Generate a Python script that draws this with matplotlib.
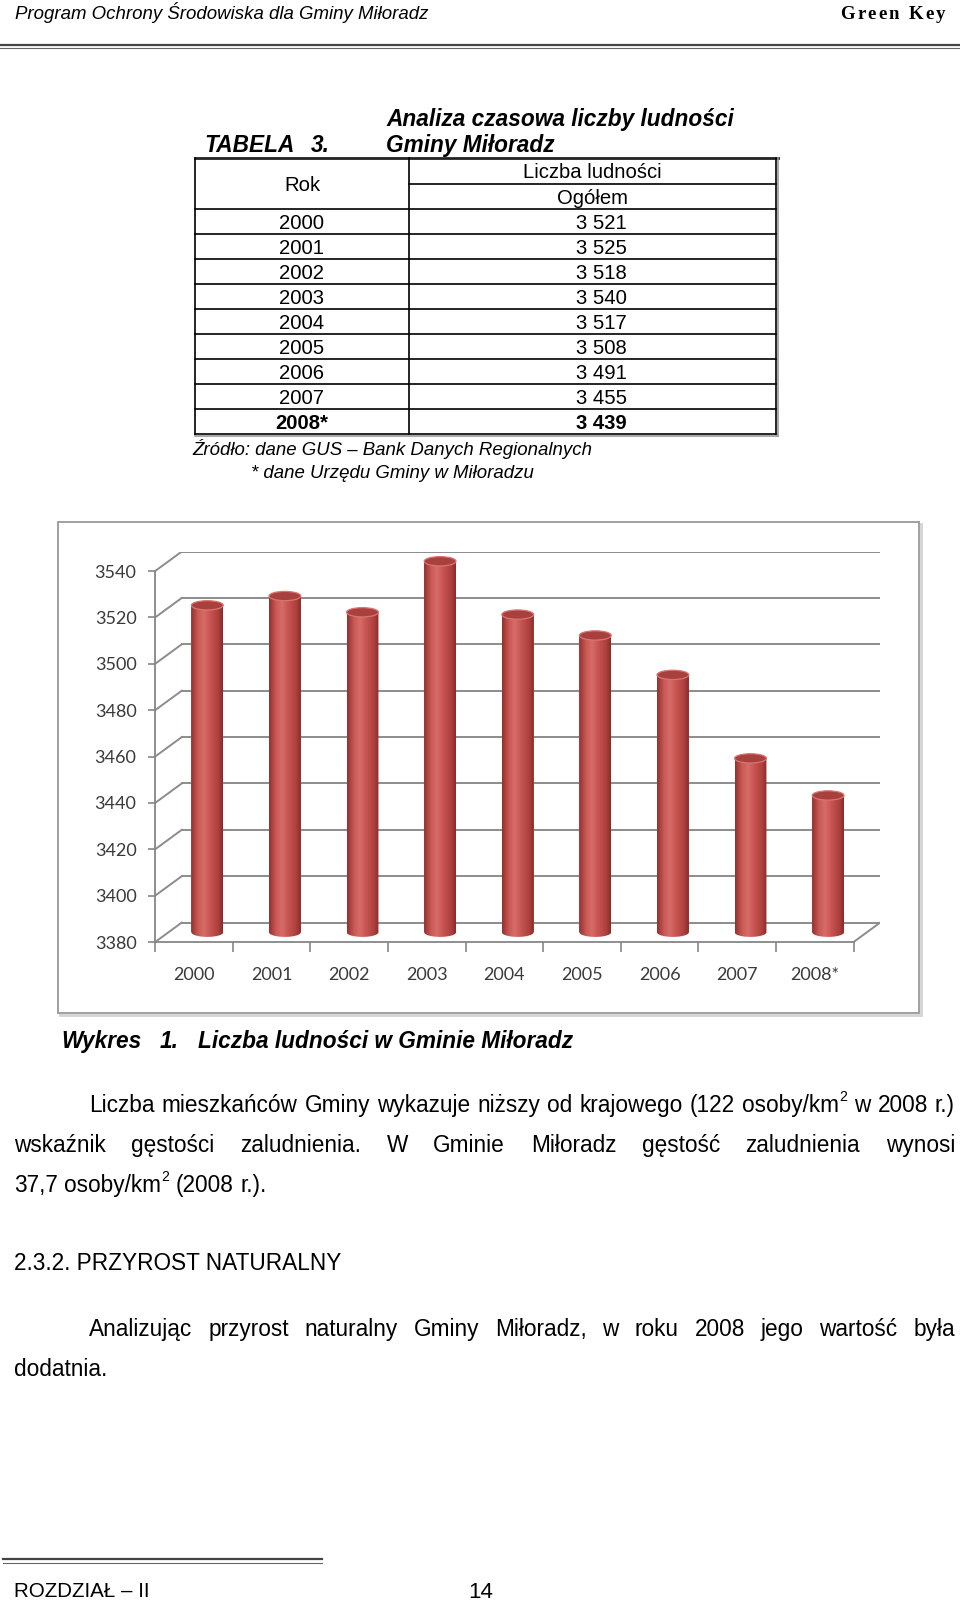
import matplotlib
matplotlib.use('Agg')
import matplotlib.pyplot as plt
import numpy as np
from matplotlib.patches import Rectangle, Ellipse, Polygon
from matplotlib.colors import LinearSegmentedColormap
from matplotlib.lines import Line2D

# ---------------- data ----------------
years = ['2000', '2001', '2002', '2003', '2004', '2005', '2006', '2007', '2008*']
population = [3521, 3525, 3518, 3540, 3517, 3508, 3491, 3455, 3439]
y_ticks = [3380, 3400, 3420, 3440, 3460, 3480, 3500, 3520, 3540]

W, H = 960, 1601
fig = plt.figure(figsize=(9.6, 16.01), dpi=100)
fig.patch.set_facecolor('white')

SANS = 'Liberation Sans'
SERIF = 'Liberation Serif'
CHART_FONT = 'Lato'


def X(px):
    return px / W


def Y(py):
    return 1 - py / H


def txt(x, yc, s, size, ha='left', **kw):
    base = yc + 0.36 * size * 100 / 72
    return fig.text(X(x), Y(base), s, fontsize=size, ha=ha, va='baseline',
                    family=kw.pop('family', SANS), **kw)


def hline(x0, x1, y, lw=1.0, color='black'):
    fig.add_artist(Line2D([X(x0), X(x1)], [Y(y), Y(y)], lw=lw, color=color,
                          transform=fig.transFigure))


def vline(x, y0, y1, lw=1.0, color='black'):
    fig.add_artist(Line2D([X(x), X(x)], [Y(y0), Y(y1)], lw=lw, color=color,
                          transform=fig.transFigure))


renderer = fig.canvas.get_renderer()


def make_word(w, yc, size, **kw):
    """Return list of (text_artist, x_offset) and total width; '^2' -> superscript."""
    parts = []
    if w.count('^'):
        main, rest = w.split('^', 1)
        sup, tail = rest[0], rest[1:]
        t1 = txt(0, yc, main, size, **kw)
        w1 = t1.get_window_extent(renderer).width
        t2 = txt(0, yc - 0.36 * size * 100 / 72, sup, size * 0.62, **kw)
        w2 = t2.get_window_extent(renderer).width
        parts = [(t1, 0), (t2, w1 + 0.5)]
        total = w1 + 0.5 + w2
        if tail:
            t3 = txt(0, yc, tail, size, **kw)
            parts.append((t3, total))
            total += t3.get_window_extent(renderer).width
        return parts, total
    t = txt(0, yc, w, size, **kw)
    return [(t, 0)], t.get_window_extent(renderer).width


def justify(words, yc, x0, x1, size, **kw):
    items = [make_word(w, yc, size, **kw) for w in words]
    gap = ((x1 - x0) - sum(it[1] for it in items)) / (len(words) - 1)
    x = x0
    for parts, wd in items:
        for t, off in parts:
            t.set_x(X(x + off))
        x += wd + gap


def line_left(words, yc, x0, size, **kw):
    space = 0.278 * size * 100 / 72
    x = x0
    for w in words:
        parts, wd = make_word(w, yc, size, **kw)
        for t, off in parts:
            t.set_x(X(x + off))
        x += wd + space


def tracked_right(x_right, yc, s, size, track, **kw):
    ts, ws = [], []
    for ch in s:
        if ch == ' ':
            ts.append(None)
            ws.append(0.25 * size * 100 / 72)
        else:
            t = txt(0, yc, ch, size, **kw)
            ts.append(t)
            ws.append(t.get_window_extent(renderer).width)
    total = sum(ws) + track * (len(s) - 1)
    x = x_right - total
    for t, w in zip(ts, ws):
        if t is not None:
            t.set_x(X(x))
        x += w + track


# ---------------- header ----------------
txt(15, 12.5, 'Program Ochrony Środowiska dla Gminy Miłoradz', 13.4, style='italic')
tracked_right(945, 12.5, 'Green Key', 13.5, 2.2, family=SERIF, weight='bold')
hline(0, 960, 45, lw=1.6, color='#444444')
hline(0, 960, 48.5, lw=0.8, color='#666666')

# ---------------- table ----------------
txt(386, 117.5, 'Analiza czasowa liczby ludności', 16.3, weight='bold', style='italic')
txt(204, 144, 'TABELA', 16.3, weight='bold', style='italic')
txt(311, 144, '3.', 16.3, weight='bold', style='italic')
txt(386, 144, 'Gminy Miłoradz', 16.3, weight='bold', style='italic')

tl, tr, tm = 195, 776, 409
top, hsplit, hbot = 158, 184, 209
row_h = 25
rows_y = [hbot + row_h * k for k in range(len(years) + 1)]
bottom = rows_y[-1]

hline(tl, tr + 2, top, lw=2.0, color='#222222')
hline(tm, tr, hsplit, lw=1.2)
hline(tl, tr, hbot, lw=1.2)
for yy in rows_y[1:]:
    hline(tl, tr, yy, lw=1.2)
vline(tl, top, bottom, lw=1.2)
vline(tm, top, bottom, lw=1.2)
vline(tr, top, bottom, lw=1.2)
vline(tr + 2.2, top, bottom + 2, lw=1.2, color='#9a9a9a')
hline(tl, tr + 2, bottom + 2.2, lw=1.2, color='#9a9a9a')

TS = 14.6
txt((tl + tm) / 2, (top + hbot) / 2, 'Rok', TS, ha='center')
txt((tm + tr) / 2, (top + hsplit) / 2, 'Liczba ludności', TS, ha='center')
txt((tm + tr) / 2, (hsplit + hbot) / 2, 'Ogółem', TS, ha='center')
for k, (yr, v) in enumerate(zip(years, population)):
    yc = rows_y[k] + row_h / 2
    wt = 'bold' if yr.endswith('*') else 'normal'
    txt((tl + tm) / 2, yc, yr, TS, ha='center', weight=wt)
    txt(601, yc, f'{v // 1000} {v % 1000:03d}', TS, ha='center', weight=wt)

txt(192, 448.5, 'Źródło: dane GUS – Bank Danych Regionalnych', 13.4, style='italic')
txt(251, 471, '* dane Urzędu Gminy w Miłoradzu', 13.4, style='italic')

# ---------------- chart frame ----------------
fig.add_artist(Rectangle((X(60), Y(1015)), X(921) - X(60), Y(524) - Y(1015),
                         transform=fig.transFigure, facecolor='none',
                         edgecolor='#d4d4d4', lw=2.0, zorder=-2))
fig.add_artist(Rectangle((X(58), Y(1013)), X(919) - X(58), Y(522) - Y(1013),
                         transform=fig.transFigure, facecolor='white',
                         edgecolor='#a0a0a0', lw=1.4, zorder=-1))

# ---------------- chart (pseudo 3D cylinders) ----------------
cat_px = 77.6
left_px = 155.2
dx = 0.343          # depth offset in category units
dy = 8.4            # depth offset in value units
px_per_unit = 371 / 160
ymin = 3380
ymax = 3540 + dy
xmin, xmax = -0.5, len(years) - 0.5 + dx

ax = fig.add_axes([X(left_px), Y(942), (xmax - xmin) * cat_px / W,
                   (ymax - ymin) * px_per_unit / H])
ax.set_zorder(5)
ax.patch.set_visible(False)

grid_c = '#8c8c8c'
for v in y_ticks:
    ax.plot([xmin + dx, len(years) - 0.5 + dx], [v + dy, v + dy], color=grid_c, lw=1.4, zorder=1)
    ax.plot([xmin, xmin + dx], [v, v + dy], color=grid_c, lw=1.4, zorder=1)
ax.plot([len(years) - 0.5, len(years) - 0.5 + dx], [ymin, ymin + dy], color=grid_c, lw=1.4, zorder=1)

cmap = LinearSegmentedColormap.from_list(
    'cyl', [(0.0, '#93312e'), (0.22, '#c95955'), (0.4, '#d66c68'),
            (0.62, '#c6534f'), (0.86, '#ab403d'), (1.0, '#882b29')])
grad = np.linspace(0, 1, 128).reshape(1, -1)
w = 0.41
eh = 4.0
base = ymin + dy / 2
xs = np.arange(len(years)) + dx / 2
bars = ax.bar(xs, [v + dy / 2 - base for v in population], bottom=base, width=w,
              color='#c0504d', edgecolor='none', zorder=3)
t = np.linspace(0, -np.pi, 40)
for xc, v, b in zip(xs, population, bars):
    topv = v + dy / 2
    verts = [(xc - w / 2, topv), (xc + w / 2, topv)]
    verts += [(xc + w / 2 * np.cos(tt), base + eh / 2 * np.sin(tt)) for tt in t]
    clip = Polygon(verts, closed=True, transform=ax.transData, facecolor='none', edgecolor='none')
    ax.add_patch(clip)
    im = ax.imshow(grad, cmap=cmap, extent=[xc - w / 2, xc + w / 2, base - eh / 2, topv],
                   aspect='auto', zorder=3, interpolation='bilinear')
    im.set_clip_path(clip)
    ax.add_patch(Ellipse((xc, topv), w, eh, facecolor='#a8413e',
                         edgecolor='#d97470', lw=0.9, zorder=4))

ax.set_xlim(xmin, xmax)
ax.set_ylim(ymin, ymax)
ax.set_aspect('auto')

for s in ['top', 'right']:
    ax.spines[s].set_visible(False)
ax.spines['left'].set_bounds(3380, 3540)
ax.spines['bottom'].set_bounds(-0.5, len(years) - 0.5)
for s in ['left', 'bottom']:
    ax.spines[s].set_color('#868686')
    ax.spines[s].set_linewidth(1.3)

ax.set_yticks(y_ticks)
ax.set_yticklabels([str(v) for v in y_ticks], family=CHART_FONT, fontsize=13, color='#3a3a3a')
ax.tick_params(axis='y', length=5, width=1.2, color='#868686', pad=8.5)
ax.set_xticks(range(len(years)))
ax.set_xticklabels(years, family=CHART_FONT, fontsize=13, color='#3a3a3a')
ax.set_xticks(np.arange(len(years) + 1) - 0.5, minor=True)
ax.tick_params(axis='x', which='major', length=0, pad=18)
ax.tick_params(axis='x', which='minor', length=7, width=1.2, color='#868686')

# ---------------- body text ----------------
BS = 16.3
txt(61, 1040, 'Wykres', BS, weight='bold', style='italic')
txt(160, 1040, '1.', BS, weight='bold', style='italic')
txt(198, 1040, 'Liczba ludności w Gminie Miłoradz', BS, weight='bold', style='italic')

justify('Liczba mieszkańców Gminy wykazuje niższy od krajowego (122 osoby/km^2 w 2008 r.)'.split(),
        1104, 89, 955, BS)
justify('wskaźnik gęstości zaludnienia. W Gminie Miłoradz gęstość zaludnienia wynosi'.split(),
        1144, 14, 955, BS)
line_left('37,7 osoby/km^2 (2008 r.).'.split(), 1184, 14, BS)

txt(14, 1262, '2.3.2. PRZYROST NATURALNY', BS)
justify('Analizując przyrost naturalny Gminy Miłoradz, w roku 2008 jego wartość była'.split(),
        1328, 89, 955, BS)
txt(14, 1367.5, 'dodatnia.', BS)

# ---------------- footer ----------------
hline(3, 322, 1559, lw=1.6, color='#444444')
hline(3, 322, 1562.5, lw=0.8, color='#666666')
txt(14, 1590, 'ROZDZIAŁ – II', 14.8)
txt(481, 1590, '14', 16, ha='center')

fig.savefig('out.png', dpi=100, facecolor='white')
